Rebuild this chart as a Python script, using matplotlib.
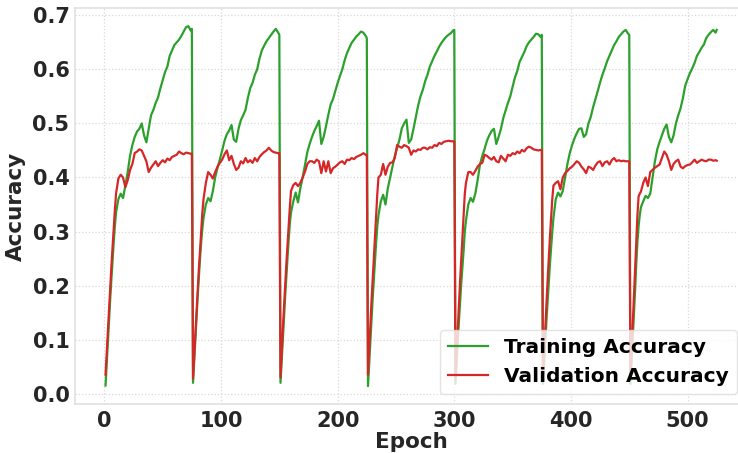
import matplotlib
matplotlib.use("Agg")
import matplotlib.pyplot as plt
import numpy as np

# local epoch inside each 75-epoch training run
local_epochs = [1, 2, 3, 4, 5, 6, 7, 8, 9, 10, 12, 14, 16, 18, 20, 22, 24, 26, 28, 30,
                32, 34, 36, 38, 40, 42, 44, 46, 48, 50, 52, 54, 56, 58, 60, 62, 64,
                66, 68, 70, 72, 74, 75]
run_length = 75

train_1 = [0.015, 0.055, 0.095, 0.135, 0.175, 0.21, 0.245, 0.28, 0.31, 0.335, 0.36, 0.37, 0.362,
           0.385, 0.41, 0.44, 0.46, 0.475, 0.485, 0.49, 0.50, 0.478, 0.465, 0.49, 0.515, 0.525,
           0.538, 0.548, 0.565, 0.58, 0.595, 0.605, 0.625, 0.635, 0.645, 0.65, 0.655, 0.662,
           0.67, 0.678, 0.68, 0.672, 0.675]
val_1 = [0.035, 0.075, 0.115, 0.155, 0.195, 0.235, 0.27, 0.305, 0.34, 0.37, 0.398, 0.405, 0.40,
         0.382, 0.395, 0.414, 0.425, 0.445, 0.448, 0.452, 0.45, 0.44, 0.43, 0.41, 0.418, 0.424,
         0.43, 0.421, 0.427, 0.432, 0.428, 0.435, 0.432, 0.438, 0.44, 0.442, 0.448, 0.445,
         0.443, 0.446, 0.445, 0.444, 0.444]

train_2 = [0.02, 0.06, 0.10, 0.14, 0.18, 0.215, 0.25, 0.28, 0.305, 0.325, 0.35, 0.362, 0.356,
           0.375, 0.40, 0.418, 0.433, 0.45, 0.468, 0.48, 0.487, 0.497, 0.47, 0.466, 0.49, 0.506,
           0.515, 0.525, 0.547, 0.565, 0.575, 0.59, 0.60, 0.62, 0.635, 0.644, 0.652, 0.658,
           0.664, 0.67, 0.675, 0.668, 0.664]
val_2 = [0.028, 0.07, 0.11, 0.15, 0.19, 0.23, 0.265, 0.30, 0.335, 0.36, 0.39, 0.41, 0.405,
         0.398, 0.41, 0.42, 0.427, 0.433, 0.443, 0.45, 0.432, 0.44, 0.425, 0.414, 0.418, 0.43,
         0.426, 0.436, 0.428, 0.432, 0.427, 0.436, 0.43, 0.438, 0.443, 0.447, 0.45, 0.455,
         0.45, 0.447, 0.446, 0.445, 0.445]

train_3 = [0.02, 0.06, 0.10, 0.14, 0.18, 0.215, 0.25, 0.285, 0.315, 0.335, 0.356, 0.372, 0.354,
           0.38, 0.40, 0.424, 0.447, 0.462, 0.475, 0.486, 0.495, 0.505, 0.462, 0.475, 0.495,
           0.516, 0.535, 0.545, 0.56, 0.575, 0.588, 0.60, 0.617, 0.63, 0.64, 0.649, 0.655,
           0.661, 0.665, 0.67, 0.668, 0.662, 0.658]
val_3 = [0.03, 0.075, 0.12, 0.16, 0.20, 0.24, 0.275, 0.31, 0.345, 0.375, 0.386, 0.39, 0.384,
         0.39, 0.40, 0.411, 0.425, 0.43, 0.43, 0.427, 0.433, 0.43, 0.408, 0.43, 0.411, 0.43,
         0.408, 0.417, 0.42, 0.424, 0.428, 0.43, 0.425, 0.433, 0.432, 0.436, 0.434, 0.438,
         0.44, 0.442, 0.445, 0.442, 0.442]

train_4 = [0.014, 0.055, 0.095, 0.135, 0.175, 0.21, 0.245, 0.28, 0.31, 0.33, 0.356, 0.368, 0.35,
           0.38, 0.40, 0.42, 0.44, 0.455, 0.47, 0.491, 0.50, 0.507, 0.464, 0.47, 0.49, 0.512,
           0.533, 0.55, 0.562, 0.578, 0.59, 0.605, 0.615, 0.625, 0.633, 0.642, 0.649, 0.655,
           0.66, 0.664, 0.667, 0.672, 0.673]
val_4 = [0.035, 0.08, 0.125, 0.17, 0.21, 0.25, 0.29, 0.33, 0.37, 0.40, 0.405, 0.425, 0.405,
         0.42, 0.427, 0.428, 0.436, 0.46, 0.457, 0.455, 0.46, 0.458, 0.455, 0.442, 0.45, 0.448,
         0.452, 0.451, 0.455, 0.455, 0.452, 0.456, 0.455, 0.46, 0.458, 0.464, 0.462, 0.466,
         0.467, 0.468, 0.467, 0.467, 0.467]

train_5 = [0.018, 0.055, 0.095, 0.135, 0.17, 0.205, 0.235, 0.265, 0.30, 0.32, 0.35, 0.362, 0.355,
           0.37, 0.395, 0.424, 0.44, 0.453, 0.468, 0.478, 0.486, 0.49, 0.462, 0.475, 0.49, 0.51,
           0.524, 0.538, 0.55, 0.568, 0.585, 0.597, 0.614, 0.623, 0.632, 0.643, 0.65, 0.655,
           0.66, 0.666, 0.665, 0.66, 0.664]
val_5 = [0.03, 0.075, 0.12, 0.165, 0.21, 0.25, 0.29, 0.33, 0.37, 0.39, 0.41, 0.41, 0.405,
         0.412, 0.42, 0.425, 0.427, 0.442, 0.44, 0.436, 0.433, 0.438, 0.43, 0.428, 0.44, 0.435,
         0.43, 0.442, 0.44, 0.445, 0.443, 0.448, 0.445, 0.451, 0.448, 0.454, 0.457, 0.455,
         0.452, 0.451, 0.45, 0.451, 0.451]

train_6 = [0.018, 0.055, 0.095, 0.135, 0.17, 0.205, 0.24, 0.27, 0.30, 0.325, 0.36, 0.372, 0.365,
           0.375, 0.40, 0.425, 0.445, 0.46, 0.472, 0.482, 0.49, 0.491, 0.475, 0.48, 0.50, 0.512,
           0.53, 0.545, 0.56, 0.576, 0.59, 0.602, 0.615, 0.625, 0.635, 0.645, 0.652, 0.66,
           0.665, 0.67, 0.673, 0.666, 0.664]
val_6 = [0.03, 0.075, 0.12, 0.165, 0.21, 0.25, 0.29, 0.325, 0.36, 0.385, 0.39, 0.393, 0.378,
         0.40, 0.408, 0.412, 0.417, 0.42, 0.425, 0.43, 0.427, 0.42, 0.415, 0.408, 0.42, 0.418,
         0.414, 0.422, 0.428, 0.43, 0.421, 0.428, 0.43, 0.424, 0.432, 0.436, 0.43, 0.432,
         0.43, 0.431, 0.43, 0.43, 0.43]

train_7 = [0.018, 0.06, 0.10, 0.145, 0.19, 0.24, 0.28, 0.31, 0.33, 0.345, 0.356, 0.366, 0.362,
           0.37, 0.40, 0.43, 0.452, 0.466, 0.478, 0.49, 0.498, 0.475, 0.465, 0.478, 0.50, 0.515,
           0.528, 0.547, 0.57, 0.582, 0.593, 0.602, 0.612, 0.625, 0.632, 0.64, 0.646, 0.658,
           0.664, 0.669, 0.673, 0.668, 0.673]
val_7 = [0.03, 0.08, 0.13, 0.18, 0.23, 0.28, 0.33, 0.365, 0.37, 0.374, 0.39, 0.40, 0.384,
         0.41, 0.414, 0.418, 0.421, 0.424, 0.436, 0.448, 0.442, 0.43, 0.414, 0.425, 0.43, 0.433,
         0.42, 0.417, 0.421, 0.423, 0.424, 0.428, 0.433, 0.427, 0.43, 0.433, 0.431, 0.43,
         0.433, 0.433, 0.431, 0.432, 0.431]

train_runs = [train_1, train_2, train_3, train_4, train_5, train_6, train_7]
val_runs = [val_1, val_2, val_3, val_4, val_5, val_6, val_7]

epochs = np.concatenate([np.array(local_epochs) + run_length * k for k in range(len(train_runs))])
train_acc = np.concatenate(train_runs)
val_acc = np.concatenate(val_runs)

plt.rcParams["font.family"] = "DejaVu Sans"
plt.rcParams["font.weight"] = "bold"
plt.rcParams["axes.labelweight"] = "bold"

fig = plt.figure(figsize=(7.38, 4.53), dpi=100)
ax = fig.add_axes([0.1016, 0.108, 0.911, 0.874])

ax.plot(epochs, train_acc, color="#2ca02c", lw=1.6, label="Training Accuracy")
ax.plot(epochs, val_acc, color="#d62728", lw=1.6, label="Validation Accuracy")

ax.set_xlabel("Epoch", fontsize=15.5, color="#262626", labelpad=1)
ax.set_ylabel("Accuracy", fontsize=15.5, color="#262626", labelpad=5)
ax.set_xticks([0, 100, 200, 300, 400, 500])
ax.set_yticks([0.0, 0.1, 0.2, 0.3, 0.4, 0.5, 0.6, 0.7])
ax.tick_params(labelsize=15, colors="#262626", length=0)
ax.tick_params(axis="y", pad=4)
ax.tick_params(axis="x", pad=5)
for lab in ax.get_xticklabels() + ax.get_yticklabels():
    lab.set_fontweight("bold")

ax.grid(True, ls=":", color="#d8d8d8", lw=0.9)
for sp in ax.spines.values():
    sp.set_color("#e0e0e0")
    sp.set_linewidth(1.2)

leg = ax.legend(loc="lower right", fontsize=14.5, frameon=True, fancybox=True,
                edgecolor="#dddddd", framealpha=0.8)

fig.savefig("out.png", dpi=100)
